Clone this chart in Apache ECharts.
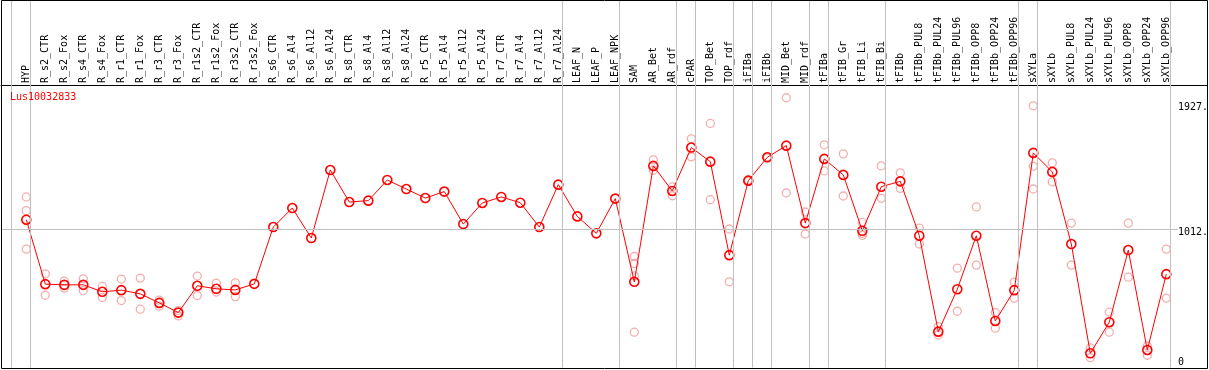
<!DOCTYPE html>
<html><head><meta charset="utf-8">
<script src="https://cdn.jsdelivr.net/npm/echarts@6/dist/echarts.min.js"></script>
<style>html,body{margin:0;padding:0;background:#fff}#c{width:1209px;height:370px}</style>
</head><body><div id="c"></div>
<script>
const categories = ["HYP","R_s2_CTR","R_s2_Fox","R_s4_CTR","R_s4_Fox","R_r1_CTR","R_r1_Fox","R_r3_CTR","R_r3_Fox","R_r1s2_CTR","R_r1s2_Fox","R_r3s2_CTR","R_r3s2_Fox","R_s6_CTR","R_s6_Al4","R_s6_Al12","R_s6_Al24","R_s8_CTR","R_s8_Al4","R_s8_Al12","R_s8_Al24","R_r5_CTR","R_r5_Al4","R_r5_Al12","R_r5_Al24","R_r7_CTR","R_r7_Al4","R_r7_Al12","R_r7_Al24","LEAF_N","LEAF_P","LEAF_NPK","SAM","AR_Bet","AR_rdf","cPAR","TOP_Bet","TOP_rdf","iFIBa","iFIBb","MID_Bet","MID_rdf","tFIBa","tFIB_Gr","tFIB_Li","tFIB_Bi","tFIBb","tFIBb_PUL8","tFIBb_PUL24","tFIBb_PUL96","tFIBb_OPP8","tFIBb_OPP24","tFIBb_OPP96","sXYLa","sXYLb","sXYLb_PUL8","sXYLb_PUL24","sXYLb_PUL96","sXYLb_OPP8","sXYLb_OPP24","sXYLb_OPP96"];
const means = [1080,609,604,604,553,565,538,472,401,597,575,567,611,1026,1165,946,1443,1209,1219,1370,1304,1238,1285,1048,1202,1246,1204,1026,1336,1104,980,1234,626,1473,1290,1607,1504,821,1365,1536,1621,1055,1524,1407,999,1321,1360,963,262,572,963,340,565,1568,1429,902,104,331,858,128,682];
const replicates = [[1246,1146,865],[684,528],[631,580],[648,562],[592,511],[646,489],[653,426],[492,448],[416,377],[668,526],[616,551],[619,518],[],[],[],[],[],[],[],[],[],[],[],[],[],[],[],[],[],[],[],[],[811,760,670,258],[1517,1441],[1319,1255],[1671,1539],[1783,1226],[1012,626],[1370,1360],[1540,1532],[1971,1275],[1136,975],[1627,1436],[1561,1253],[1060,965,980],[1473,1236],[1422,1309],[1019,902],[299,238],[726,411],[1173,748],[401,287],[624,507],[1912,1470,1304],[1495,1356],[1055,748],[143,72],[404,258],[1055,660],[157,89],[865,507]];
const groupBreaks = [-1,0,28,31,34,35,37,38,39,41,42,45,52,53,60];
const yTickLabels = [0,1012,1927];
const geneName = "Lus10032833";

const mono = "DejaVu Sans Mono";
const sepPos = groupBreaks.map(i => i + 0.22);
const repData = [];
replicates.forEach((arr, i) => arr.forEach(v => repData.push([i, v])));

const chart = echarts.init(document.getElementById('c'), null, {renderer:'canvas'});
chart.setOption({
  animation: false,
  backgroundColor: '#fff',
  title: {text: geneName, left: 10, top: 92, padding: 0,
    textStyle: {color: '#ff0000', fontFamily: mono, fontSize: 10, fontWeight: 'normal'}},
  grid: {left: 1, right: 2, top: 85, bottom: 2.5, outerBoundsMode: 'none', containLabel: false},
  xAxis: {
    type: 'value', position: 'top', min: -25.3/19, max: (1207-26.3)/19,
    axisLine: {show: true, onZero: false, lineStyle: {color: '#000', width: 1}},
    axisTick: {show: true, customValues: sepPos, length: 85, inside: false, lineStyle: {color: '#c0c0c0', width: 1}},
    axisLabel: {show: true, customValues: categories.map((c, i) => i), rotate: -90, margin: 2,
      formatter: v => categories[Math.round(v)] || '', color: '#000', fontFamily: mono, fontSize: 10},
    splitLine: {show: false}
  },
  yAxis: {
    type: 'value', position: 'right', min: 0, max: 2064, z: 10,
    axisLine: {show: false}, axisTick: {show: false}, splitLine: {show: false},
    axisLabel: {show: true, inside: true, customValues: yTickLabels, align: 'left', margin: 29,
      formatter: v => v === 0 ? '{b|0}' : '{t|' + v + '.}',
      rich: {
        t: {fontFamily: mono, fontSize: 10, color: '#000', lineHeight: 10, padding: [7, 0, 0, 0], backgroundColor: '#fff'},
        b: {fontFamily: mono, fontSize: 10, color: '#000', lineHeight: 10, padding: [0, 0, 10, 0]}
      }}
  },
  graphic: [{type: 'rect', shape: {x: 1.5, y: 0.5, width: 1206, height: 368}, style: {fill: 'none', stroke: '#000', lineWidth: 1}, z: 100, silent: true}],
  series: [
    {type: 'scatter', data: repData, symbol: 'circle', symbolSize: 8, z: 3,
      itemStyle: {color: 'rgba(255,255,255,0)', borderColor: '#f09a9a', borderWidth: 1.3},
      markLine: {silent: true, symbol: 'none', label: {show: false}, animation: false,
        lineStyle: {color: '#c0c0c0', type: 'solid', width: 1},
        data: sepPos.map(s => ({xAxis: s})).concat([{yAxis: 1012}])}
    },
    {type: 'line', data: means.map((v, i) => [i, v]), symbol: 'circle', symbolSize: 9, z: 4,
      lineStyle: {color: '#ff0000', width: 1},
      itemStyle: {color: 'rgba(255,255,255,0)', borderColor: '#ff0000', borderWidth: 1.6}}
  ]
});
</script></body></html>
